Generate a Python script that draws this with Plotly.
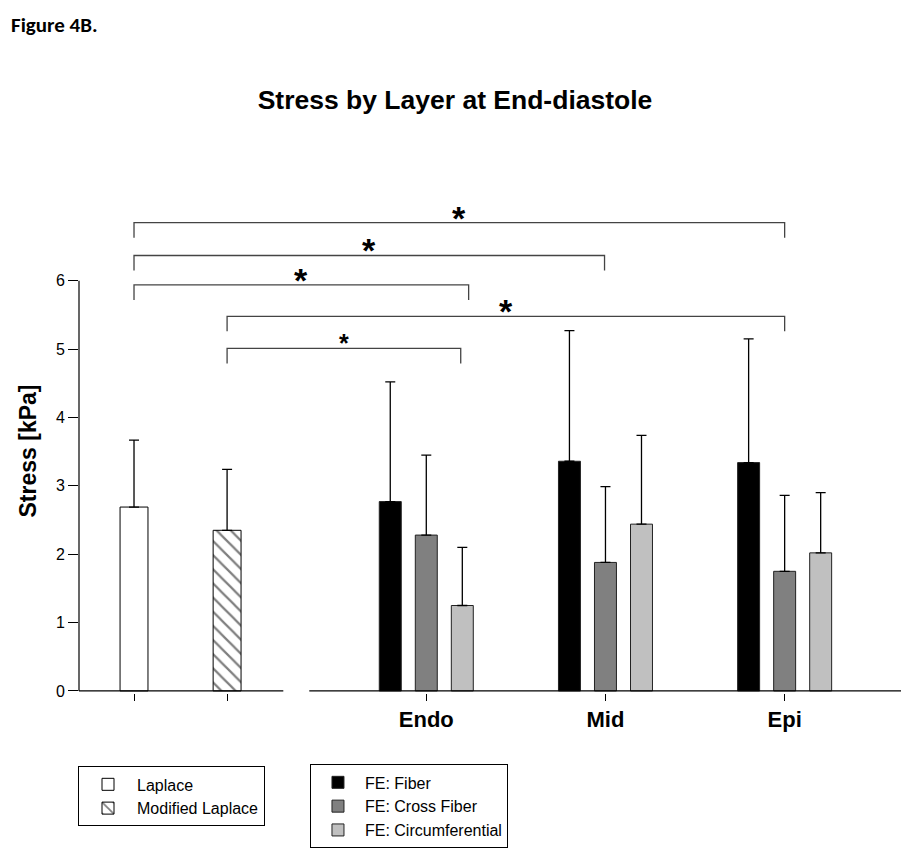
import plotly.graph_objects as go

# ---------------- data ----------------
left_categories = ["Laplace", "Modified Laplace"]
laplace_mean = [2.69]
laplace_upper = [3.67]
modified_mean = [2.35]
modified_upper = [3.24]

layers = ["Endo", "Mid", "Epi"]
fiber_mean = [2.77, 3.36, 3.34]
fiber_upper = [4.52, 5.27, 5.15]
cross_mean = [2.28, 1.88, 1.75]
cross_upper = [3.45, 2.99, 2.86]
circ_mean = [1.25, 2.44, 2.02]
circ_upper = [2.10, 3.74, 2.90]

y_tick_values = [0, 1, 2, 3, 4, 5, 6]

# significance brackets (start group, end group, height in kPa)
bracket_from = ["Laplace", "Laplace", "Laplace", "Modified Laplace", "Modified Laplace"]
bracket_to = ["Epi", "Mid", "Endo", "Epi", "Endo"]
bracket_height = [6.85, 6.37, 5.94, 5.48, 5.01]
bracket_text = ["*", "*", "*", "*", "*"]

# ---------------- layout / styling ----------------
FONT = "Arial, Liberation Sans, sans-serif"
POS = {"Laplace": 0.0, "Modified Laplace": 1.0, "Endo": 3.14, "Mid": 5.065, "Epi": 6.99}
END_SHIFT = [0.0, -0.01, 0.455, 0.0, 0.37]   # where each bracket's right leg lands
LEG_DROP = 0.22
STAR_SIZE = [34, 34, 34, 34, 25]
FE_W = 0.236
FE_GAP = 0.387
LEFT_W = 0.30
X_RANGE = [-0.591, 8.24]
Y_RANGE = [-0.03, 7.05]
PAGE_OFFSET = 8  # default body margin of the html page

err_style = dict(type="data", symmetric=False, color="black", thickness=1.3, width=5)

fig = go.Figure()

# left panel bars
fig.add_trace(go.Bar(
    name="Laplace", x=[POS["Laplace"]], y=laplace_mean, width=LEFT_W,
    marker=dict(color="white", line=dict(color="black", width=1)),
    error_y=dict(array=[u - m for u, m in zip(laplace_upper, laplace_mean)],
                 arrayminus=[0] * len(laplace_mean), **err_style),
    legend="legend"))
fig.add_trace(go.Bar(
    name="Modified Laplace", x=[POS["Modified Laplace"]], y=modified_mean, width=LEFT_W,
    marker=dict(color="white", line=dict(color="black", width=1),
                pattern=dict(shape="\\", fgcolor="black", bgcolor="white", size=10, solidity=0.22)),
    error_y=dict(array=[u - m for u, m in zip(modified_upper, modified_mean)],
                 arrayminus=[0] * len(modified_mean), **err_style),
    legend="legend"))

# right panel grouped bars
layer_x = [POS[l] for l in layers]
for name, means, upper, color, off in [
    ("FE: Fiber", fiber_mean, fiber_upper, "#000000", -FE_GAP),
    ("FE: Cross Fiber", cross_mean, cross_upper, "#808080", 0.0),
    ("FE: Circumferential", circ_mean, circ_upper, "#c0c0c0", FE_GAP),
]:
    fig.add_trace(go.Bar(
        name=name, x=layer_x, y=means, width=FE_W, offset=off - FE_W / 2,
        marker=dict(color=color, line=dict(color="#222222", width=1)),
        error_y=dict(array=[u - m for u, m in zip(upper, means)],
                     arrayminus=[0] * len(means), **err_style),
        legend="legend2"))

shapes = []
# axis lines (two x-axis segments, one y-axis segment)
shapes.append(dict(type="line", xref="x", yref="y", x0=X_RANGE[0], x1=1.604, y0=0, y1=0,
                   line=dict(color="black", width=1.2)))
shapes.append(dict(type="line", xref="x", yref="y", x0=1.883, x1=X_RANGE[1], y0=0, y1=0,
                   line=dict(color="black", width=1.2)))
shapes.append(dict(type="line", xref="paper", yref="y", x0=0, x1=0, y0=0, y1=6,
                   line=dict(color="black", width=1.2)))

annotations = []
for f, t, h, txt, sh, ss in zip(bracket_from, bracket_to, bracket_height, bracket_text, END_SHIFT, STAR_SIZE):
    x0 = POS[f]
    x1 = POS[t] + sh
    shapes.append(dict(type="path", xref="x", yref="y",
                       path=f"M {x0},{h - LEG_DROP} L {x0},{h} L {x1},{h} L {x1},{h - LEG_DROP}",
                       line=dict(color="#444444", width=1.3)))
    annotations.append(dict(x=(x0 + x1) / 2, y=h, xref="x", yref="y", text=txt, showarrow=False,
                            yanchor="middle", yshift=5,
                            font=dict(family=FONT, size=ss, color="black", weight="bold")))

# plot area spans page y 209..696
annotations.append(dict(text="Figure 4B.", xref="paper", yref="paper", x=-0.0852,
                        y=(696 - 9) / (696 - 209),
                        xanchor="left", yanchor="top", showarrow=False,
                        font=dict(family="Calibri, Carlito, Lato, sans-serif", size=21,
                                  color="black", weight="bold")))

W, H = 915 - 2 * PAGE_OFFSET, 862 - 2 * PAGE_OFFSET
fig.update_layout(
    width=W, height=H,
    margin=dict(l=79 - PAGE_OFFSET, r=6, t=209 - PAGE_OFFSET, b=H - (696 - PAGE_OFFSET)),
    paper_bgcolor="white", plot_bgcolor="white",
    barmode="overlay",
    font=dict(family=FONT, color="black"),
    title=dict(text="Stress by Layer at End-diastole", x=(455 - PAGE_OFFSET) / W, xref="container",
               xanchor="center", y=1 - (100 - PAGE_OFFSET) / H, yref="container", yanchor="middle",
               font=dict(family=FONT, size=26.5, color="black", weight="bold")),
    xaxis=dict(range=X_RANGE, showline=False, showgrid=False, zeroline=False,
               tickmode="array", tickvals=[POS[c] for c in left_categories] + layer_x,
               ticktext=[""] * len(left_categories) + layers,
               ticks="outside", ticklen=7, tickwidth=1.2, tickcolor="black",
               tickfont=dict(family=FONT, size=22, color="black", weight="bold")),
    yaxis=dict(range=Y_RANGE, showline=False, showgrid=False, zeroline=False,
               tickmode="array", tickvals=y_tick_values,
               ticks="outside", ticklen=10, tickwidth=1.2, tickcolor="black",
               tickfont=dict(family=FONT, size=16, color="black"),
               title=dict(text="Stress [kPa]", standoff=12,
                          font=dict(family=FONT, size=23, color="black", weight="bold"))),
    shapes=shapes,
    annotations=annotations,
    legend=dict(x=-0.0012, y=-0.1517, xanchor="left", yanchor="top", orientation="v",
                bordercolor="black", borderwidth=1, bgcolor="white", itemwidth=48,
                traceorder="normal", font=dict(family=FONT, size=16, color="black")),
    legend2=dict(x=0.281, y=-0.1476, xanchor="left", yanchor="top", orientation="v",
                 bordercolor="black", borderwidth=1, bgcolor="white", itemwidth=44,
                 traceorder="normal", font=dict(family=FONT, size=16, color="black")),
)

fig.write_html("out.html")
